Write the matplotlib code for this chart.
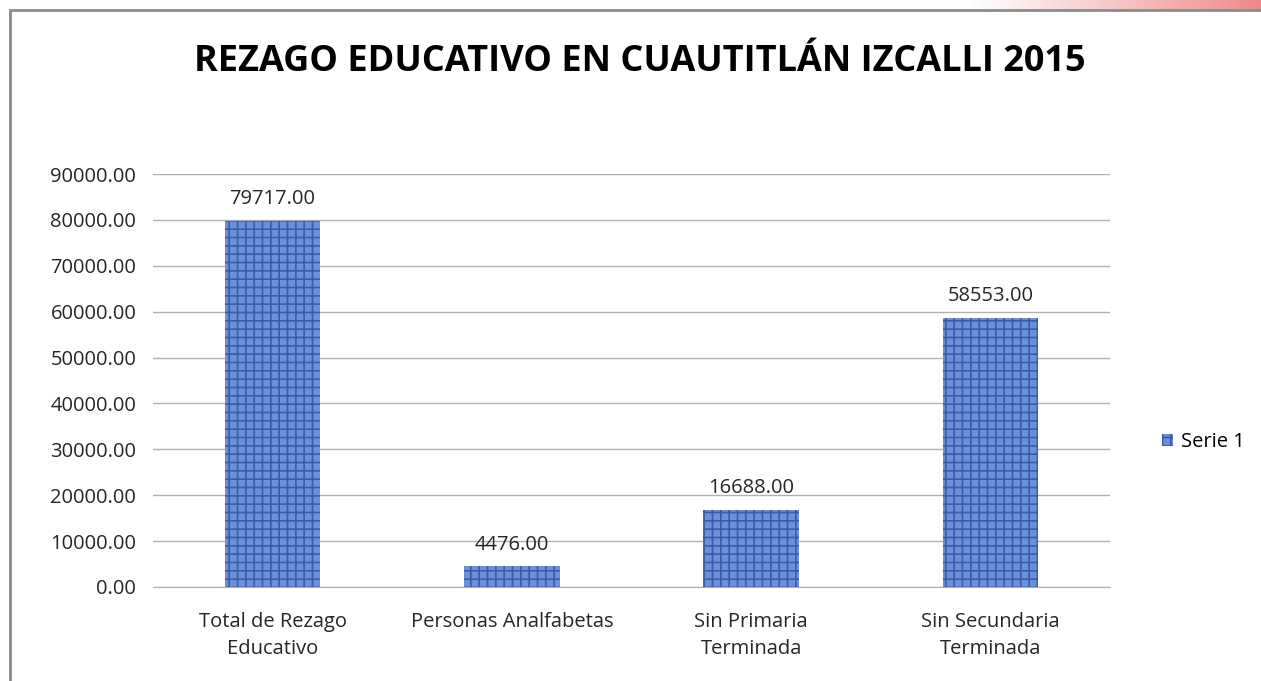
import matplotlib.pyplot as plt
from matplotlib.patches import Rectangle
import numpy as np

categorias = ['Total de Rezago\nEducativo', 'Personas Analfabetas',
              'Sin Primaria\nTerminada', 'Sin Secundaria\nTerminada']
valores = [79717, 4476, 16688, 58553]
serie = 'Serie 1'
titulo = 'REZAGO EDUCATIVO EN CUAUTITLÁN IZCALLI 2015'

plt.rcParams['font.family'] = ['Open Sans', 'DejaVu Sans']
plt.rcParams['hatch.linewidth'] = 1.2
plt.rcParams['hatch.color'] = '#3a5ca8'

fig = plt.figure(figsize=(12.61, 6.81), dpi=100)
fig.patch.set_facecolor('white')

# marco de la diapositiva
fig.add_artist(Rectangle((10 / 1261, -0.01), 1.0, 1 - 10 / 681 + 0.01,
                         transform=fig.transFigure, fill=False,
                         edgecolor='#8c8c8c', linewidth=2))
# degradado rosado arriba a la derecha
grad = np.linspace(0, 1, 200).reshape(1, -1)
gax = fig.add_axes([970 / 1261, 1 - 10 / 681, 291 / 1261, 10 / 681])
gax.imshow(grad, aspect='auto', cmap=plt.matplotlib.colors.LinearSegmentedColormap.from_list(
    'rosa', ['#ffffff', '#f7c6c6', '#f08a8a']))
gax.axis('off')

ax = fig.add_axes([153 / 1261, 1 - 587 / 681, (1110 - 153) / 1261, (587 - 174) / 681])
x = np.arange(len(categorias))
barras = ax.bar(x, valores, width=0.4, color='#6b8fd8', hatch='++',
                edgecolor='#3a5ca8', linewidth=0, label=serie, zorder=3)

for xi, v in zip(x, valores):
    ax.text(xi, v + 2600, f'{v:.2f}', ha='center', va='bottom',
            fontsize=14.5, color='#262626')

ax.set_xlim(-0.5, len(categorias) - 0.5)
ax.set_ylim(0, 90000)
ax.set_yticks(np.arange(0, 90001, 10000))
ax.set_yticklabels([f'{t:.2f}' for t in np.arange(0, 90001, 10000)])
ax.set_xticks(x)
ax.set_xticklabels(categorias, linespacing=1.45)
ax.tick_params(axis='both', length=0, labelsize=14.5, colors='#262626')
ax.tick_params(axis='y', pad=12)
ax.tick_params(axis='x', pad=18)
ax.grid(axis='y', color='#b0b0b0', linewidth=1, zorder=0)
for s in ['top', 'right', 'left']:
    ax.spines[s].set_visible(False)
ax.spines['bottom'].set_color('#b0b0b0')

ax.legend(loc='center left', bbox_to_anchor=(1.035, 0.35), frameon=False,
          fontsize=14.5, handlelength=0.55, handleheight=0.55, handletextpad=0.4)

fig.text(0.507, 1 - 62 / 681, titulo, ha='center', va='center',
         fontsize=26, fontweight='bold', color='black')

fig.savefig('out.png', dpi=100)
